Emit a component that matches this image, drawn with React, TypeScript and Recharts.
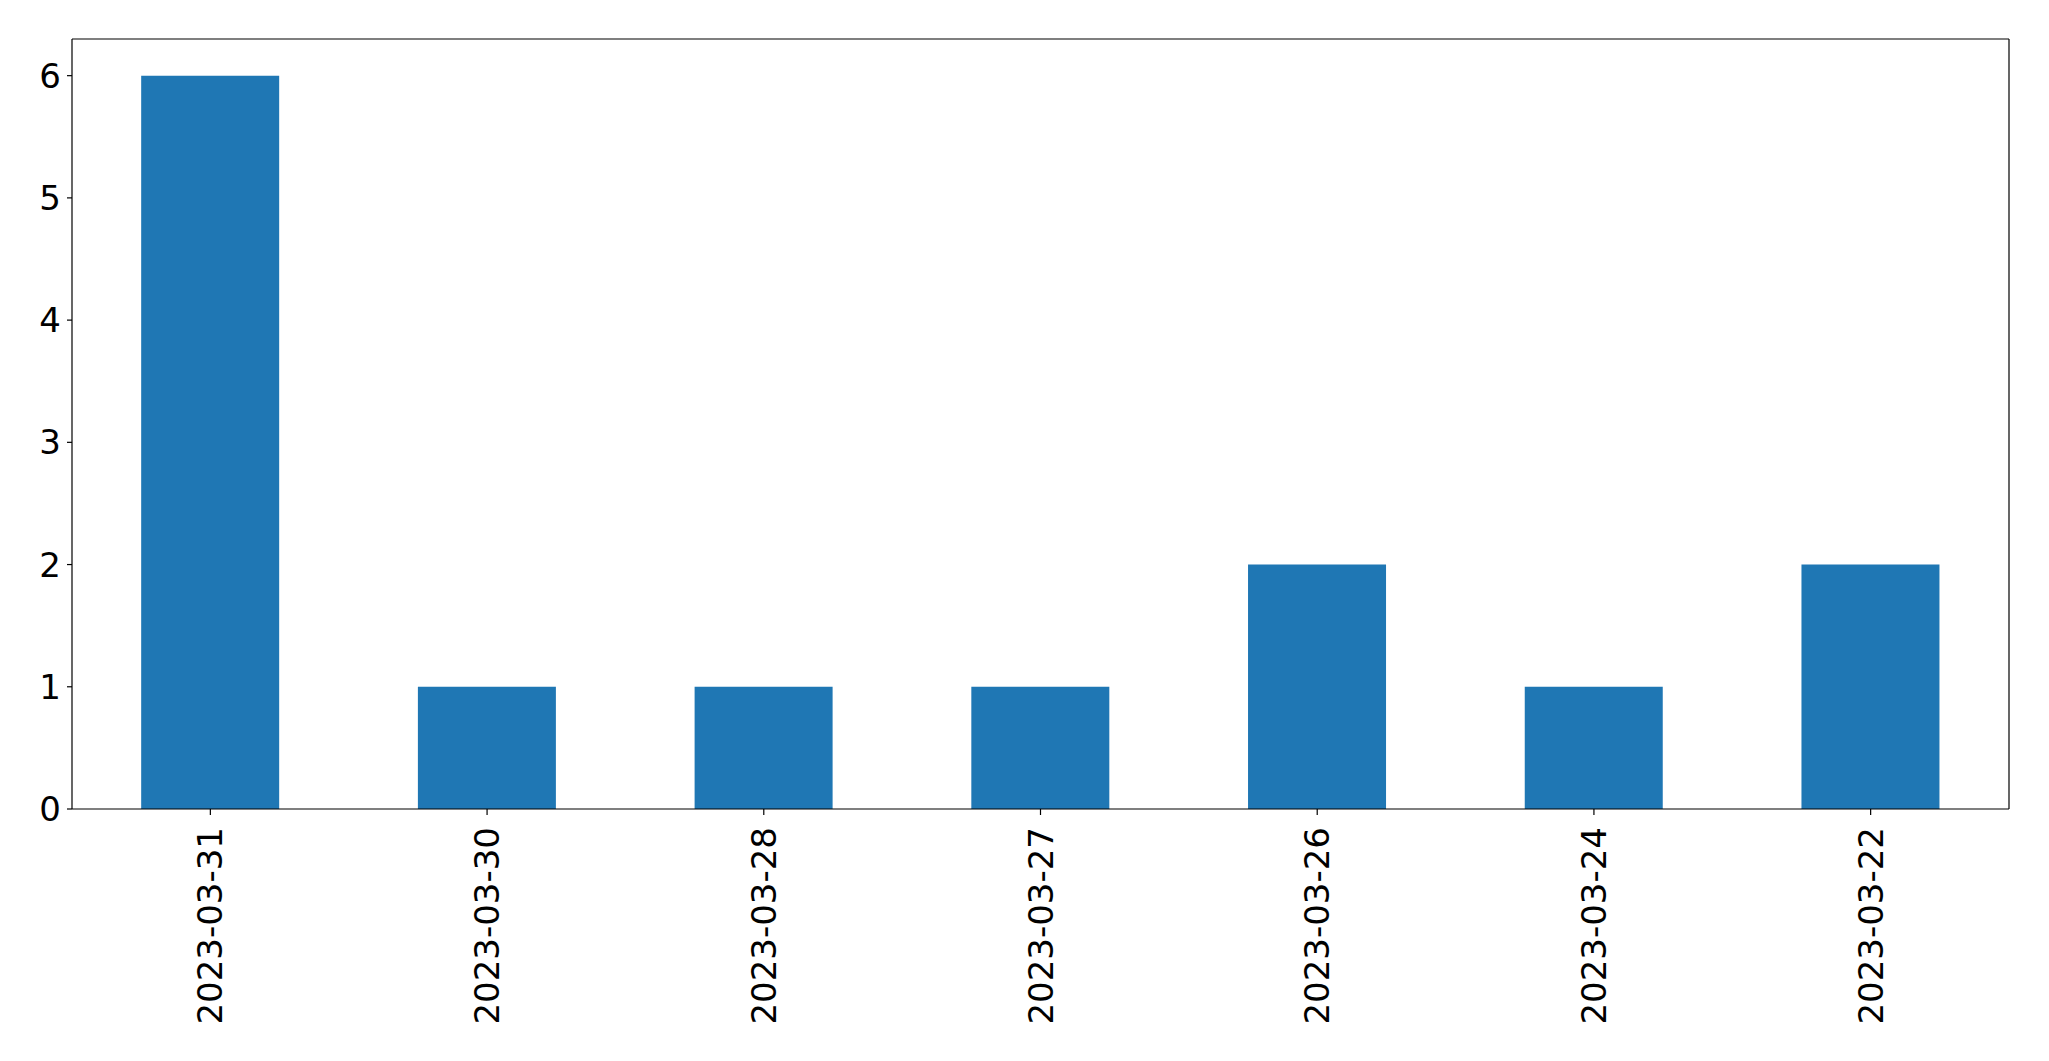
import { BarChart, Bar, XAxis, YAxis } from "recharts";

const dates = [
  "2023-03-31",
  "2023-03-30",
  "2023-03-28",
  "2023-03-27",
  "2023-03-26",
  "2023-03-24",
  "2023-03-22",
];
const counts = [6, 1, 1, 1, 2, 1, 2];
const yTicks = [0, 1, 2, 3, 4, 5, 6];

const data = dates.map((d, i) => ({ date: d, count: counts[i] }));

const FONT = "DejaVu Sans";

// rotated date labels, reading bottom to top
const DateTick = (props: any) => {
  const { x, y, payload } = props;
  return (
    <text
      transform={`translate(${x},${y}) rotate(-90)`}
      textAnchor="end"
      dominantBaseline="central"
      fontFamily={FONT}
      fontSize={34}
      fill="#000"
    >
      {payload.value}
    </text>
  );
};

export default function App() {
  return (
    <div style={{ position: "absolute", left: 0, top: 0, width: 2049, height: 1061, background: "#fff" }}>
      <BarChart
        width={2049}
        height={1061}
        data={data}
        margin={{ top: 38, right: 39, bottom: 0, left: 0 }}
        barCategoryGap="25%"
      >
        <XAxis
          dataKey="date"
          xAxisId="main"
          interval={0}
          height={252}
          tickSize={6}
          tickMargin={12}
          tick={<DateTick />}
          axisLine={{ stroke: "#000", strokeWidth: 1.2 }}
          tickLine={{ stroke: "#000", strokeWidth: 1.2 }}
        />
        <XAxis
          dataKey="date"
          xAxisId="top"
          orientation="top"
          height={1}
          tick={false}
          tickLine={false}
          axisLine={{ stroke: "#000", strokeWidth: 1.2 }}
        />
        <YAxis
          yAxisId="main"
          width={72}
          domain={[0, 6.3]}
          ticks={yTicks}
          tickSize={5}
          tickMargin={6}
          tick={{ fill: "#000", fontSize: 34, fontFamily: FONT }}
          axisLine={{ stroke: "#000", strokeWidth: 1.2 }}
          tickLine={{ stroke: "#000", strokeWidth: 1.2 }}
        />
        <YAxis
          yAxisId="right"
          orientation="right"
          width={1}
          domain={[0, 6.3]}
          tick={false}
          tickLine={false}
          axisLine={{ stroke: "#000", strokeWidth: 1.2 }}
        />
        <Bar
          dataKey="count"
          xAxisId="main"
          yAxisId="main"
          fill="#1f77b4"
          isAnimationActive={false}
        />
      </BarChart>
    </div>
  );
}
